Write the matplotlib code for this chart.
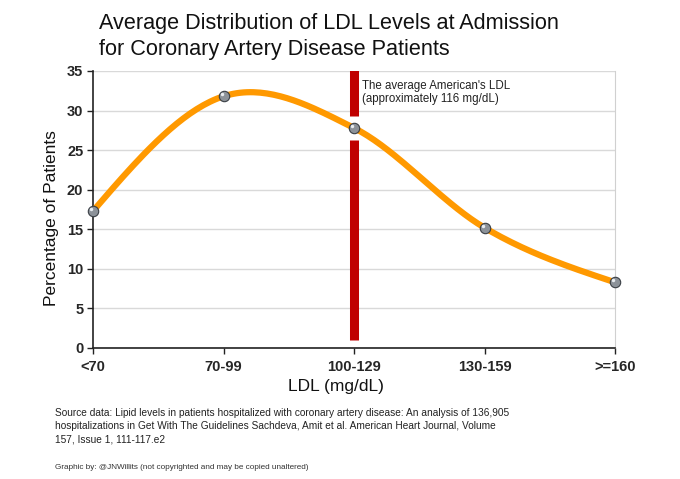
import matplotlib

matplotlib.use("Agg")
import matplotlib.pyplot as plt
import numpy as np

plt.rcParams["font.family"] = ["Liberation Sans", "DejaVu Sans"]

# LDL range categories and share of patients (%)
categories = ["<70", "70-99", "100-129", "130-159", ">=160"]
percent = [17.3, 31.8, 27.8, 15.2, 8.3]

# marker for the average American's LDL (drawn at the 100-129 tick)
avg_category = "100-129"
avg_bar_segments = [(1.0, 26.3), (29.3, 35.1)]
avg_label = "The average American's LDL\n(approximately 116 mg/dL)"

y_ticks = [0, 5, 10, 15, 20, 25, 30, 35]

title = "Average Distribution of LDL Levels at Admission\nfor Coronary Artery Disease Patients"
source = ("Source data: Lipid levels in patients hospitalized with coronary artery disease: An analysis of 136,905\n"
          "hospitalizations in Get With The Guidelines Sachdeva, Amit et al. American Heart Journal, Volume\n"
          "157, Issue 1, 111-117.e2")
credit = "Graphic by: @JNWillits (not copyrighted and may be copied unaltered)"


def smooth(xs, ys, n=40):
    # Excel-style smoothed line: cubic Bezier pieces through the points.
    # Inner controls are Catmull-Rom; end controls sit halfway to the inner one.
    pts = np.column_stack([xs, ys]).astype(float)
    last = len(pts) - 1
    out = []
    for i in range(last):
        p1, p2 = pts[i], pts[i + 1]
        c1 = p1 + (p2 - pts[i - 1]) / 6 if i > 0 else None
        c2 = p2 - (pts[i + 2] - p1) / 6 if i + 1 < last else None
        if c1 is None:
            c1 = p1 + (c2 - p1) / 2
        if c2 is None:
            c2 = p2 + (c1 - p2) / 2
        t = np.linspace(0, 1, n)[:, None]
        seg = (1 - t) ** 3 * p1 + 3 * (1 - t) ** 2 * t * c1 + 3 * (1 - t) * t ** 2 * c2 + t ** 3 * p2
        out.append(seg if i == 0 else seg[1:])
    out = np.vstack(out)
    return out[:, 0], out[:, 1]


fig = plt.figure(figsize=(6.8, 4.79), dpi=100)
ax = fig.add_axes([0.1368, 0.2735, 0.7676, 0.5783])

x = np.arange(len(categories))
sx, sy = smooth(x, percent)

ax.set_xlim(0, len(categories) - 1)
ax.set_ylim(0, 35)
ax.set_yticks(y_ticks)
ax.set_xticks(x)
ax.set_xticklabels(categories)
ax.yaxis.grid(True, color="#d9d9d9", linewidth=1.0)
ax.set_axisbelow(True)

ax.plot(sx, sy, color="#ff9900", linewidth=4.5, solid_capstyle="round", zorder=3)

bx = categories.index(avg_category)
for lo, hi in avg_bar_segments:
    ax.plot([bx, bx], [lo, hi], color="#c00000", linewidth=6.5, solid_capstyle="butt", zorder=4)

ax.plot(x, percent, linestyle="none", marker="o", markersize=7.5,
        markerfacecolor="#8c9299", markeredgecolor="#3a3f45", markeredgewidth=0.8, zorder=5, clip_on=False)
ax.plot(x - 0.012, np.array(percent) + 0.25, linestyle="none", marker="o", markersize=2.5,
        markerfacecolor="#e8ecf0", markeredgewidth=0, zorder=6, clip_on=False)

ax.text(bx + 0.06, 33.9, avg_label, fontsize=8.3, color="#222222", va="top", ha="left", linespacing=1.18)

ax.spines["top"].set_visible(False)
ax.spines["right"].set_color("#d0d0d0")
ax.spines["left"].set_color("#222222")
ax.spines["bottom"].set_color("#222222")
ax.spines["left"].set_linewidth(1.2)
ax.spines["bottom"].set_linewidth(1.2)
ax.tick_params(axis="both", direction="out", length=4, width=1.0, color="#222222",
               labelsize=10.5, labelcolor="#262626", pad=3)
ax.tick_params(axis="x", pad=4.5)
for lab in ax.get_xticklabels() + ax.get_yticklabels():
    lab.set_fontweight("bold")

ax.set_ylabel("Percentage of Patients", fontsize=12.5, color="#111111")
ax.yaxis.set_label_coords(-0.066, 0.47)
ax.set_xlabel("LDL (mg/dL)", fontsize=12.5, color="#111111")
ax.xaxis.set_label_coords(0.466, -0.112)

fig.text(0.1456, 0.973, title, fontsize=15.6, color="#111111", ha="left", va="top", linespacing=1.3)
fig.text(0.081, 0.148, source, fontsize=7.3, color="#222222", ha="left", va="top", linespacing=1.38)
fig.text(0.081, 0.025, credit, fontsize=5.9, color="#333333", ha="left", va="center")

fig.savefig("out.png", dpi=100)
